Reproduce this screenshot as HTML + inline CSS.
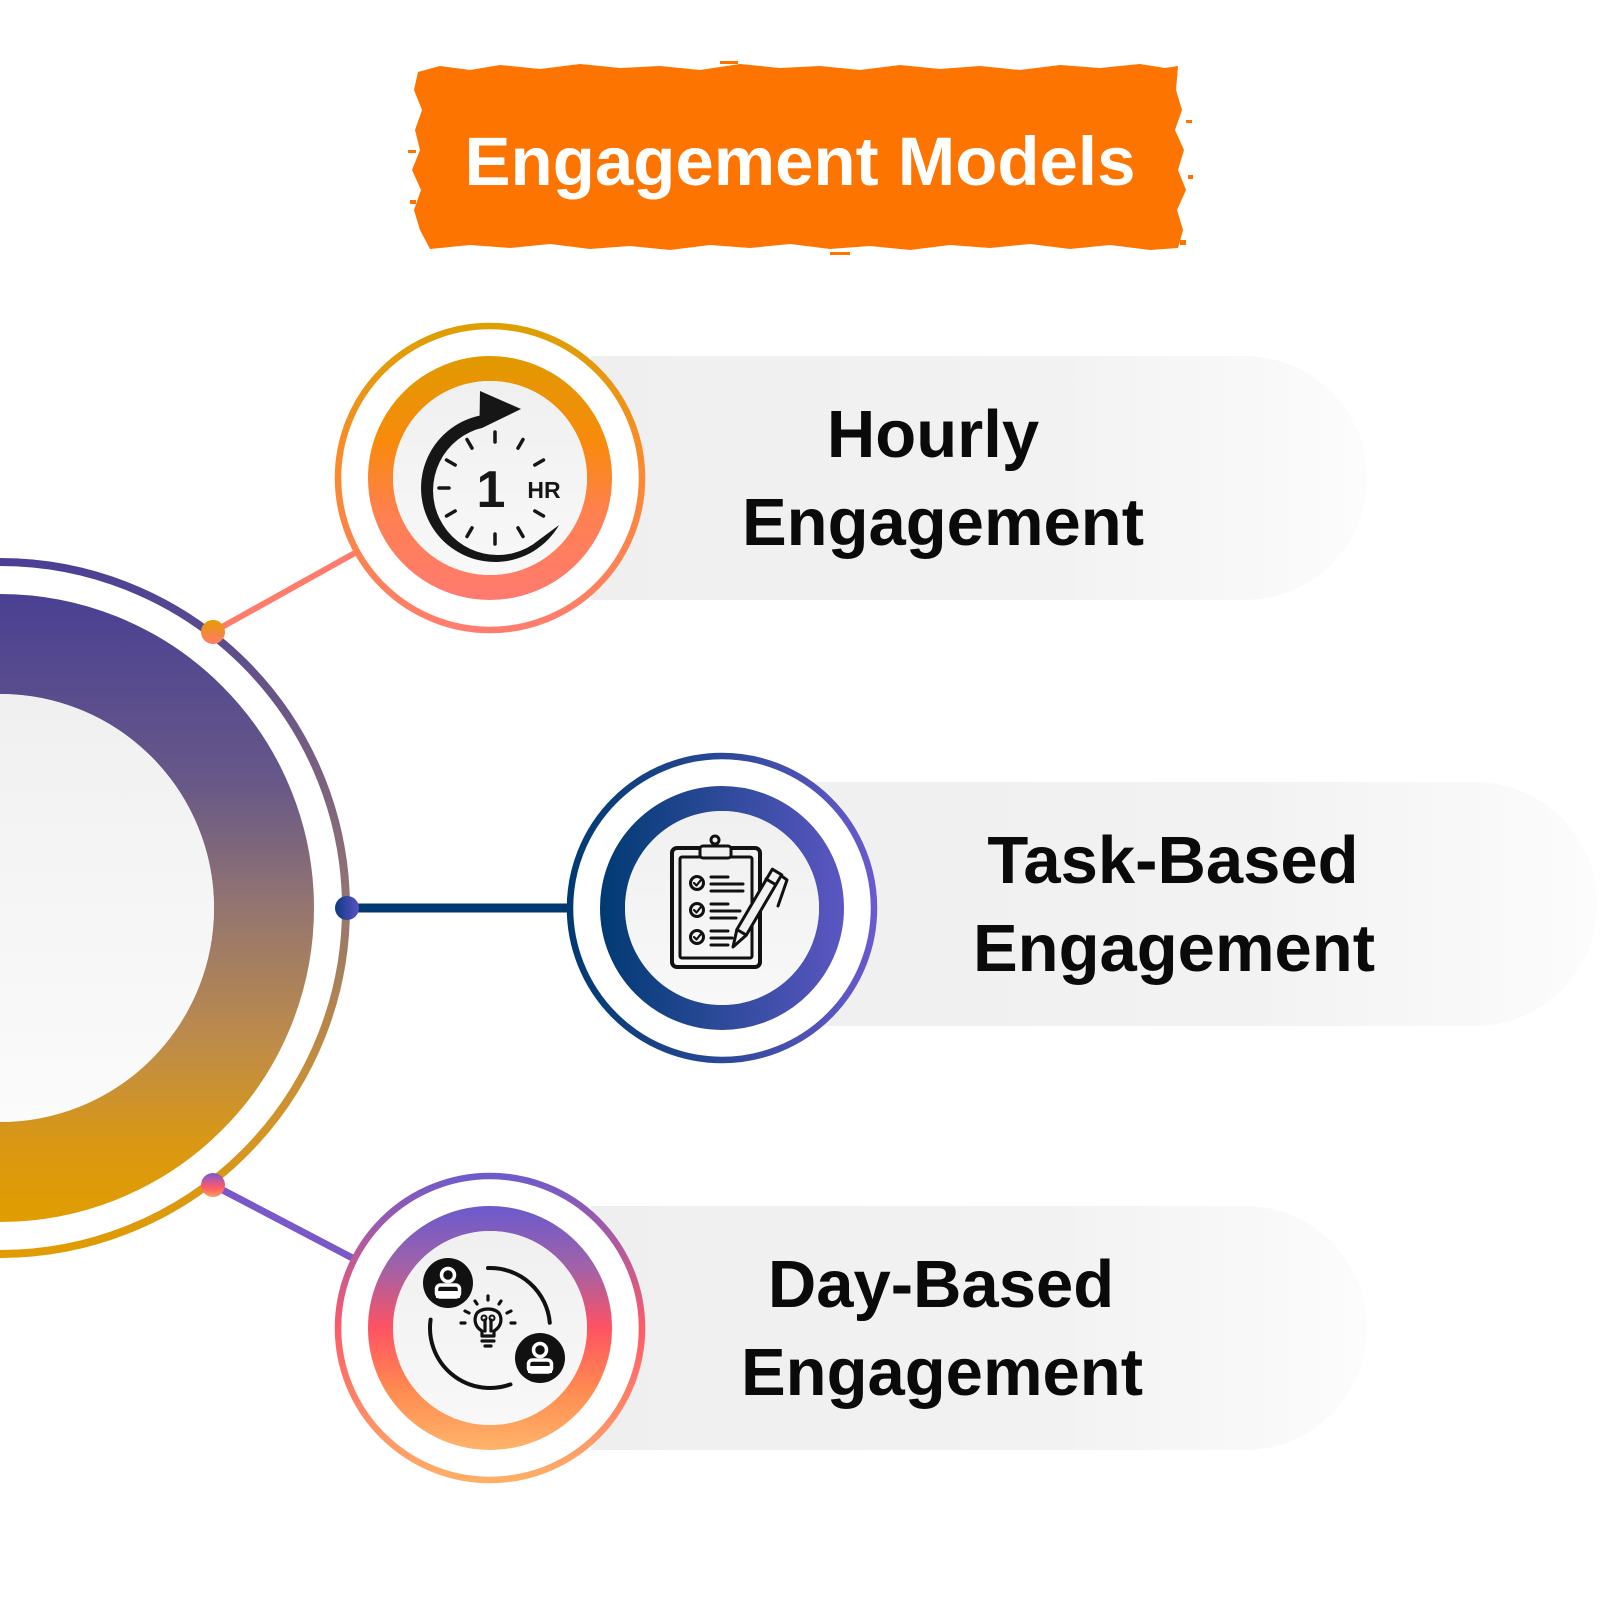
<!DOCTYPE html>
<html>
<head>
<meta charset="utf-8">
<style>
  html,body{margin:0;padding:0;background:#ffffff;}
  svg{display:block;}
  text{font-family:"Liberation Sans", Arial, sans-serif;font-weight:bold;}
</style>
</head>
<body>
<svg width="1600" height="1600" viewBox="0 0 1600 1600" xmlns="http://www.w3.org/2000/svg">
  <defs>
    <linearGradient id="pill" x1="0" y1="0" x2="1" y2="0">
      <stop offset="0" stop-color="#efefef"/>
      <stop offset="0.6" stop-color="#f2f2f2"/>
      <stop offset="1" stop-color="#fcfcfc"/>
    </linearGradient>
    <linearGradient id="bigThin" gradientUnits="userSpaceOnUse" x1="0" y1="558" x2="0" y2="1258">
      <stop offset="0" stop-color="#4a3f96"/>
      <stop offset="0.5" stop-color="#957672"/>
      <stop offset="0.8" stop-color="#d2942a"/>
      <stop offset="1" stop-color="#e19c00"/>
    </linearGradient>
    <linearGradient id="bigThick" gradientUnits="userSpaceOnUse" x1="0" y1="594" x2="0" y2="1222">
      <stop offset="0" stop-color="#4a4093"/>
      <stop offset="0.3" stop-color="#675888"/>
      <stop offset="0.5" stop-color="#947570"/>
      <stop offset="0.72" stop-color="#bf8c48"/>
      <stop offset="0.88" stop-color="#da9812"/>
      <stop offset="1" stop-color="#e19d00"/>
    </linearGradient>
    <linearGradient id="bigFill" gradientUnits="userSpaceOnUse" x1="0" y1="694" x2="0" y2="1122">
      <stop offset="0" stop-color="#f0f0f0"/>
      <stop offset="1" stop-color="#fbfbfb"/>
    </linearGradient>
    <linearGradient id="hThin" gradientUnits="userSpaceOnUse" x1="0" y1="323" x2="0" y2="633">
      <stop offset="0" stop-color="#dca000"/>
      <stop offset="0.45" stop-color="#fb8a2a"/>
      <stop offset="1" stop-color="#ff7d70"/>
    </linearGradient>
    <linearGradient id="hThick" gradientUnits="userSpaceOnUse" x1="0" y1="356" x2="0" y2="600">
      <stop offset="0" stop-color="#e09a00"/>
      <stop offset="0.35" stop-color="#f88a0c"/>
      <stop offset="0.65" stop-color="#ff8050"/>
      <stop offset="1" stop-color="#ff7a70"/>
    </linearGradient>
    <linearGradient id="tThin" gradientUnits="userSpaceOnUse" x1="567" y1="0" x2="877" y2="0">
      <stop offset="0" stop-color="#003a72"/>
      <stop offset="0.5" stop-color="#2b4896"/>
      <stop offset="1" stop-color="#6a5ad0"/>
    </linearGradient>
    <linearGradient id="tThick" gradientUnits="userSpaceOnUse" x1="600" y1="0" x2="844" y2="0">
      <stop offset="0" stop-color="#003a72"/>
      <stop offset="0.5" stop-color="#2d4a9a"/>
      <stop offset="1" stop-color="#5c56c2"/>
    </linearGradient>
    <linearGradient id="dThin" gradientUnits="userSpaceOnUse" x1="0" y1="1173" x2="0" y2="1483">
      <stop offset="0" stop-color="#6c5acd"/>
      <stop offset="0.5" stop-color="#ff5a68"/>
      <stop offset="1" stop-color="#ffb066"/>
    </linearGradient>
    <linearGradient id="dThick" gradientUnits="userSpaceOnUse" x1="0" y1="1206" x2="0" y2="1450">
      <stop offset="0" stop-color="#6b5acd"/>
      <stop offset="0.25" stop-color="#a062a8"/>
      <stop offset="0.5" stop-color="#ff5262"/>
      <stop offset="0.75" stop-color="#ff8a50"/>
      <stop offset="1" stop-color="#ffb46a"/>
    </linearGradient>
    <linearGradient id="innerFill" x1="0" y1="0" x2="0" y2="1">
      <stop offset="0" stop-color="#f0f0f0"/>
      <stop offset="1" stop-color="#f8f8f8"/>
    </linearGradient>
    <linearGradient id="dotH" x1="0" y1="0" x2="0" y2="1">
      <stop offset="0" stop-color="#e69a00"/>
      <stop offset="1" stop-color="#ff7c6a"/>
    </linearGradient>
    <linearGradient id="dotT" x1="0" y1="0" x2="1" y2="0">
      <stop offset="0" stop-color="#0f3a80"/>
      <stop offset="1" stop-color="#5a52c4"/>
    </linearGradient>
    <linearGradient id="dotD" x1="0" y1="0" x2="0" y2="1">
      <stop offset="0" stop-color="#7a5ad0"/>
      <stop offset="0.6" stop-color="#ff5a68"/>
      <stop offset="1" stop-color="#ff9a60"/>
    </linearGradient>
  </defs>

  <rect x="0" y="0" width="1600" height="1600" fill="#ffffff"/>

  <!-- Title banner -->
  <polygon fill="#fe7400" points="418,72 440,66 470,70 500,65 540,69 580,64 620,68 660,66 700,70 740,64 780,68 820,66 860,70 900,65 940,69 980,66 1020,70 1060,65 1100,68 1140,64 1165,68 1178,66 1176,90 1182,110 1175,130 1184,150 1178,170 1186,190 1177,210 1183,230 1178,248 1150,250 1110,245 1070,249 1030,244 990,248 950,245 910,250 870,246 830,249 790,244 750,248 710,245 670,250 630,246 590,249 550,244 510,248 470,245 430,249 420,230 414,210 421,190 412,170 420,150 415,130 422,110 414,90"/>
  <g fill="#fe7400">
    <rect x="408" y="150" width="8" height="3"/>
    <rect x="410" y="200" width="6" height="4"/>
    <rect x="1186" y="120" width="6" height="3"/>
    <rect x="1188" y="175" width="5" height="4"/>
    <rect x="1180" y="240" width="6" height="5"/>
    <rect x="830" y="252" width="20" height="3"/>
    <rect x="720" y="61" width="18" height="3"/>
  </g>
  <text x="800" y="185" font-size="69" fill="#ffffff" text-anchor="middle">Engagement Models</text>

  <!-- Pills -->
  <path d="M591,356 L1245,356 A122,122 0 0 1 1245,600 L591,600 Z" fill="url(#pill)"/>
  <path d="M722,782 L1475,782 A122,122 0 0 1 1475,1026 L722,1026 Z" fill="url(#pill)"/>
  <path d="M591,1206 L1245,1206 A122,122 0 0 1 1245,1450 L591,1450 Z" fill="url(#pill)"/>

  <!-- Big left circle -->
  <circle cx="0" cy="908" r="346" fill="none" stroke="url(#bigThin)" stroke-width="8"/>
  <circle cx="0" cy="908" r="264" fill="none" stroke="url(#bigThick)" stroke-width="100"/>
  <circle cx="0" cy="908" r="214" fill="url(#bigFill)"/>

  <!-- Connectors -->
  <line x1="213" y1="632" x2="362" y2="549" stroke="#ff7b6b" stroke-width="6"/>
  <line x1="347" y1="908" x2="580" y2="908" stroke="#003a70" stroke-width="9"/>
  <line x1="213" y1="1185" x2="362" y2="1263" stroke="#7b58c8" stroke-width="7"/>

  <circle cx="213" cy="632" r="12" fill="url(#dotH)"/>
  <circle cx="347" cy="908" r="12" fill="url(#dotT)"/>
  <circle cx="213" cy="1185" r="12" fill="url(#dotD)"/>

  <!-- Hourly circle -->
  <circle cx="490" cy="478" r="155" fill="#ffffff"/>
  <circle cx="490" cy="478" r="152" fill="none" stroke="url(#hThin)" stroke-width="6.5"/>
  <circle cx="490" cy="478" r="109.5" fill="none" stroke="url(#hThick)" stroke-width="25"/>
  <circle cx="490" cy="478" r="97" fill="url(#innerFill)"/>

  <!-- Clock icon -->
  <path fill="#161616" d="M559.1,525 A74,74 0 1 1 479.6,415.6 L480,391 L521,409 L482,428 L484.1,427.4 A64.5,64.5 0 1 0 539,539.9 Q551,531 559.1,525 Z"/>
  <g stroke="#161616" stroke-width="3.5" stroke-linecap="round">
    <line x1="495" y1="432" x2="495" y2="442" transform="rotate(0 495 488)"/>
    <line x1="495" y1="432" x2="495" y2="442" transform="rotate(30 495 488)"/>
    <line x1="495" y1="432" x2="495" y2="442" transform="rotate(60 495 488)"/>
    <line x1="495" y1="432" x2="495" y2="442" transform="rotate(120 495 488)"/>
    <line x1="495" y1="432" x2="495" y2="442" transform="rotate(150 495 488)"/>
    <line x1="495" y1="432" x2="495" y2="442" transform="rotate(180 495 488)"/>
    <line x1="495" y1="432" x2="495" y2="442" transform="rotate(210 495 488)"/>
    <line x1="495" y1="432" x2="495" y2="442" transform="rotate(240 495 488)"/>
    <line x1="495" y1="432" x2="495" y2="442" transform="rotate(270 495 488)"/>
    <line x1="495" y1="432" x2="495" y2="442" transform="rotate(300 495 488)"/>
    <line x1="495" y1="432" x2="495" y2="442" transform="rotate(330 495 488)"/>
  </g>
  <text x="491" y="507" font-size="52" fill="#161616" text-anchor="middle">1</text>
  <text x="544" y="498" font-size="23" fill="#161616" text-anchor="middle">HR</text>

  <!-- Task circle -->
  <circle cx="722" cy="908" r="155" fill="#ffffff"/>
  <circle cx="722" cy="908" r="152" fill="none" stroke="url(#tThin)" stroke-width="6.5"/>
  <circle cx="722" cy="908" r="109.5" fill="none" stroke="url(#tThick)" stroke-width="25"/>
  <circle cx="722" cy="908" r="97" fill="url(#innerFill)"/>

  <!-- Clipboard icon -->
  <g fill="none" stroke="#111111" stroke-linecap="round" stroke-linejoin="round">
    <rect x="672" y="848" width="88" height="119" rx="5" stroke-width="4"/>
    <rect x="680" y="857" width="72" height="101" rx="2" stroke-width="3"/>
    <rect x="700" y="846" width="31" height="12" rx="3" stroke-width="3" fill="#f2f2f2"/>
    <circle cx="715" cy="840" r="4" stroke-width="3" fill="#f2f2f2"/>
    <circle cx="697" cy="883" r="6.5" stroke-width="3"/>
    <circle cx="697" cy="910" r="6.5" stroke-width="3"/>
    <circle cx="697" cy="937" r="6.5" stroke-width="3"/>
    <path d="M694,883 L696.5,885.5 L700.5,880.5" stroke-width="2.2"/>
    <path d="M694,910 L696.5,912.5 L700.5,907.5" stroke-width="2.2"/>
    <path d="M694,937 L696.5,939.5 L700.5,934.5" stroke-width="2.2"/>
    <g stroke-width="3">
      <line x1="711" y1="877" x2="728" y2="877"/>
      <line x1="711" y1="884" x2="743" y2="884"/>
      <line x1="711" y1="891" x2="743" y2="891"/>
      <line x1="711" y1="904" x2="728" y2="904"/>
      <line x1="711" y1="911" x2="740" y2="911"/>
      <line x1="711" y1="918" x2="736" y2="918"/>
      <line x1="711" y1="931" x2="728" y2="931"/>
      <line x1="711" y1="938" x2="732" y2="938"/>
      <line x1="711" y1="945" x2="728" y2="945"/>
    </g>
    <polygon points="781.7,874.8 772.3,869.2 736.9,929.5 733,947 746.3,935.1" fill="#f2f2f2" stroke-width="3"/>
    <line x1="766" y1="879" x2="775.6" y2="884.6" stroke-width="3"/>
    <line x1="736.9" y1="929.5" x2="746.3" y2="935.1" stroke-width="3"/>
    <path d="M783,877 L787,880 L778,906" stroke-width="3"/>
  </g>

  <!-- Day circle -->
  <circle cx="490" cy="1328" r="155" fill="#ffffff"/>
  <circle cx="490" cy="1328" r="152" fill="none" stroke="url(#dThin)" stroke-width="6.5"/>
  <circle cx="490" cy="1328" r="109.5" fill="none" stroke="url(#dThick)" stroke-width="25"/>
  <circle cx="490" cy="1328" r="97" fill="url(#innerFill)"/>

  <!-- Collaboration icon -->
  <g fill="none" stroke="#111111" stroke-width="4" stroke-linecap="round">
    <path d="M488,1268 A60,60 0 0 1 549.8,1322.8"/>
    <path d="M430.6,1319.6 A60,60 0 0 0 510.5,1384.4"/>
  </g>
  <circle cx="448" cy="1283" r="25" fill="#111111"/>
  <circle cx="540" cy="1358" r="25" fill="#111111"/>
  <g fill="none" stroke="#ffffff" stroke-width="3.5">
    <circle cx="448" cy="1275" r="6.5"/>
    <rect x="436.5" y="1285" width="23" height="12" rx="4"/>
    <circle cx="540" cy="1350" r="6.5"/>
    <rect x="528.5" y="1360" width="23" height="12" rx="4"/>
  </g>
  <rect x="436" y="1291" width="24" height="7" fill="#ffffff"/>
  <rect x="528" y="1366" width="24" height="7" fill="#ffffff"/>
  <!-- bulb -->
  <g fill="none" stroke="#111111" stroke-width="3.2" stroke-linecap="round" stroke-linejoin="round">
    <path d="M482,1336 L482,1331 C475,1327 474,1320 476,1315 C479,1307 497,1307 500,1315 C502,1320 501,1327 494,1331 L494,1336 Z"/>
    <path d="M485,1331 L485,1320 M491,1331 L491,1320"/>
    <circle cx="484" cy="1318" r="2.5" stroke-width="2"/>
    <circle cx="492" cy="1318" r="2.5" stroke-width="2"/>
    <line x1="482" y1="1341" x2="494" y2="1341"/>
    <line x1="485" y1="1346" x2="491" y2="1346"/>
    <line x1="488" y1="1296" x2="488" y2="1300"/>
    <line x1="475" y1="1301" x2="477" y2="1304"/>
    <line x1="501" y1="1301" x2="499" y2="1304"/>
    <line x1="465" y1="1311" x2="469" y2="1313"/>
    <line x1="511" y1="1311" x2="507" y2="1313"/>
    <line x1="461" y1="1323" x2="465" y2="1323"/>
    <line x1="511" y1="1323" x2="515" y2="1323"/>
  </g>

  <!-- Labels -->
  <g fill="#0a0a0a" font-size="67">
    <text x="933" y="457" text-anchor="middle">Hourly</text>
    <text x="943" y="545" text-anchor="middle">Engagement</text>
    <text x="1173" y="883" text-anchor="middle">Task-Based</text>
    <text x="1174" y="971" text-anchor="middle">Engagement</text>
    <text x="941" y="1307" text-anchor="middle">Day-Based</text>
    <text x="942" y="1395" text-anchor="middle">Engagement</text>
  </g>
</svg>
</body>
</html>
